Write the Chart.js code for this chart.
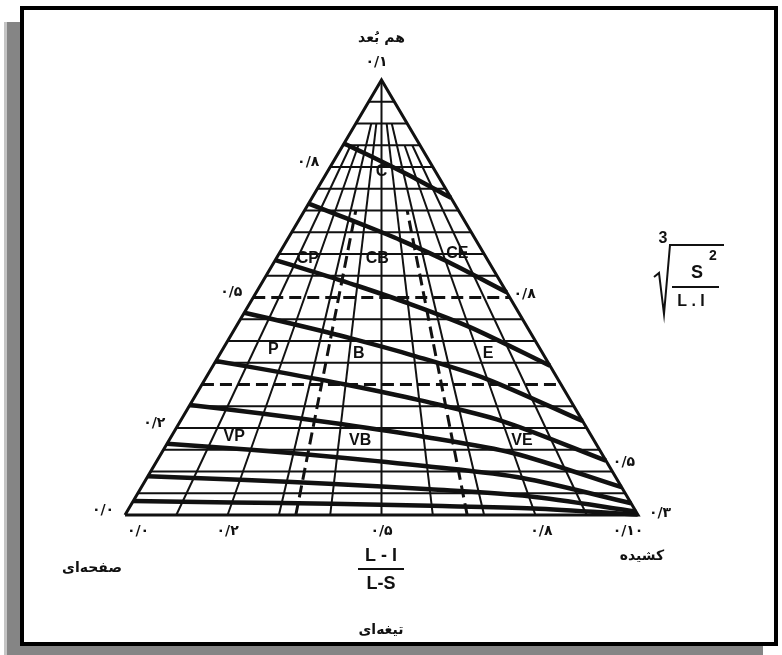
<!DOCTYPE html>
<html>
<head>
<meta charset="utf-8">
<script src="https://cdn.jsdelivr.net/npm/chart.js@4.4.1/dist/chart.umd.min.js"></script>
<style>
  html, body { margin: 0; padding: 0; background: #fff; }
  #shadow { position: absolute; left: 4px; top: 22px; width: 756px; height: 633px; background: #858585; border-left: 3px solid #c4c4c4; }
  #frame { position: absolute; left: 20px; top: 6px; width: 750px; height: 632px; border: 4px solid #000; background: #fff; }
  #chart { position: absolute; left: 0; top: 0; }
</style>
</head>
<body>
<div id="shadow"></div>
<div id="frame"></div>
<canvas id="chart" width="782" height="655"></canvas>
<script>
// S/L (سطرها) و (L-I)/(L-S) (خطوط شعاعی)
const gridS = [0.05, 0.1, 0.15, 0.2, 0.25, 0.35, 0.4, 0.45, 0.55, 0.6, 0.65, 0.7, 0.75, 0.8, 0.85, 0.9, 0.95];
const gridR = [0.1, 0.2, 0.3, 0.4, 0.5, 0.6, 0.7, 0.8, 0.9];
const gridRTop = [0.85, 0.85, 0.9, 0.9, 1, 0.9, 0.9, 0.85, 0.85];

// مرز کلاس‌ها (خط‌چین)
const classS = [0.3, 0.5];
const classR = [0.333, 0.667];
const classRTop = 0.7;

// منحنی‌های کرویت
const contourR = [0, 0.2, 0.4, 0.6, 0.8, 1];
const psi90 = [0.854, 0.840, 0.823, 0.801, 0.772, 0.729];
const psi80 = [0.716, 0.693, 0.666, 0.632, 0.585, 0.512];
const psi70 = [0.586, 0.559, 0.527, 0.487, 0.433, 0.343];
const psi60 = [0.465, 0.438, 0.406, 0.366, 0.312, 0.216];
const psi50 = [0.354, 0.329, 0.300, 0.264, 0.216, 0.125];
const psi40 = [0.253, 0.233, 0.209, 0.180, 0.142, 0.064];
const psi30 = [0.164, 0.150, 0.133, 0.112, 0.085, 0.027];
const psi20 = [0.089, 0.081, 0.071, 0.059, 0.043, 0.008];
const psi10 = [0.032, 0.029, 0.026, 0.021, 0.015, 0.001];
const contours = [psi90, psi80, psi70, psi60, psi50, psi40, psi30, psi20, psi10];

// نام رده‌ها
const classNames = ['C', 'CP', 'CB', 'CE', 'P', 'B', 'E', 'VP', 'VB', 'VE'];
const classNameR = [0.5, 0.15, 0.48, 0.87, 0.16, 0.43, 0.83, 0.15, 0.45, 0.83];
const classNameS = [0.79, 0.59, 0.59, 0.6, 0.38, 0.37, 0.37, 0.18, 0.17, 0.17];

// برچسب محورها
const leftTickS = [0, 0.2, 0.5, 0.8];
const leftTickText = ['۰/۰', '۰/۲', '۰/۵', '۰/۸'];
const bottomTickR = [0, 0.2, 0.5, 0.8, 1];
const bottomTickText = ['۰/۰', '۰/۲', '۰/۵', '۰/۸', '۰/۱۰'];
const rightTickS = [0.512, 0.125];
const rightTickText = ['۰/۸', '۰/۵'];

// تبدیل مختصات مثلثی به مختصات نمودار
function tern(r, s) {
  return { x: 0.5 * s + r * (1 - s), y: s };
}

function lineSet(points, width, dash, tension) {
  return {
    data: points,
    showLine: true,
    borderColor: '#111',
    borderWidth: width,
    borderDash: dash || [],
    pointRadius: 0,
    fill: false,
    tension: tension || 0,
    clip: false
  };
}

const datasets = [];
gridS.forEach(s => datasets.push(lineSet([tern(0, s), tern(1, s)], 2)));
gridR.forEach((r, i) => datasets.push(lineSet([tern(r, 0), tern(r, gridRTop[i])], 2)));
classS.forEach(s => datasets.push(lineSet([tern(0, s), tern(1, s)], 3, [12, 6])));
classR.forEach(r => datasets.push(lineSet([tern(r, 0), tern(r, classRTop)], 3, [12, 6])));
contours.forEach(c => datasets.push(lineSet(contourR.map((r, i) => tern(r, c[i])), 4.5, null, 0.3)));
datasets.push(lineSet([tern(0, 0), tern(0, 1), tern(1, 0), tern(0, 0)], 3));

const labelsPlugin = {
  id: 'labels',
  afterDraw(chart) {
    const ctx = chart.ctx;
    const xs = chart.scales.x, ys = chart.scales.y;
    const px = p => [xs.getPixelForValue(p.x), ys.getPixelForValue(p.y)];
    ctx.save();
    ctx.fillStyle = '#111';
    ctx.textAlign = 'center';
    ctx.textBaseline = 'middle';

    ctx.font = 'bold 16px "Liberation Sans", Arial, sans-serif';
    classNames.forEach((t, i) => {
      const [x, y] = px(tern(classNameR[i], classNameS[i]));
      ctx.fillText(t, x, y);
    });

    ctx.font = 'bold 14px "DejaVu Sans", sans-serif';
    leftTickS.forEach((s, i) => {
      const [x, y] = px(tern(0, s));
      ctx.fillText(leftTickText[i], x - 22, y - 5);
    });
    const bdx = [13, 0, 0, 6, -10];
    bottomTickR.forEach((r, i) => {
      const [x, y] = px(tern(r, 0));
      ctx.fillText(bottomTickText[i], x + bdx[i], y + 16);
    });
    rightTickS.forEach((s, i) => {
      const [x, y] = px(tern(1, s));
      ctx.fillText(rightTickText[i], x + 18, y + 2);
    });
    const [cx, cy] = px(tern(1, 0));
    ctx.fillText('۰/۳', cx + 22, cy - 2);
    const [ax, ay] = px(tern(0.5, 1));
    ctx.fillText('۰/۱', ax - 5, ay - 18);

    // عنوان رأس‌ها
    ctx.font = 'bold 14px "DejaVu Sans", sans-serif';
    ctx.fillText('هم بُعد', ax, ay - 42);
    ctx.fillText('صفحه‌ای', 92, 568);
    ctx.fillText('کشیده', 642, 556);
    ctx.fillText('تیغه‌ای', 381, 630);

    // کسر پایین
    ctx.font = 'bold 18px "Liberation Sans", Arial, sans-serif';
    ctx.fillText('L - I', 381, 556);
    ctx.fillText('L-S', 381, 584);
    ctx.lineWidth = 2;
    ctx.strokeStyle = '#111';
    ctx.beginPath();
    ctx.moveTo(358, 569);
    ctx.lineTo(404, 569);
    ctx.stroke();

    // فرمول کرویت
    ctx.font = 'bold 16px "Liberation Sans", Arial, sans-serif';
    ctx.fillText('3', 663, 239);
    ctx.beginPath();
    ctx.moveTo(654, 277);
    ctx.lineTo(659, 273);
    ctx.lineTo(664, 314);
    ctx.lineTo(670, 245);
    ctx.lineTo(724, 245);
    ctx.stroke();
    ctx.font = 'bold 18px "Liberation Sans", Arial, sans-serif';
    ctx.fillText('S', 697, 273);
    ctx.font = 'bold 14px "Liberation Sans", Arial, sans-serif';
    ctx.fillText('2', 713, 256);
    ctx.beginPath();
    ctx.moveTo(672, 287);
    ctx.lineTo(719, 287);
    ctx.stroke();
    ctx.font = 'bold 16px "Liberation Sans", Arial, sans-serif';
    ctx.fillText('L . I', 691, 302);
    ctx.restore();
  }
};

new Chart(document.getElementById('chart'), {
  type: 'scatter',
  data: { datasets: datasets },
  options: {
    responsive: false,
    animation: false,
    devicePixelRatio: 1,
    layout: { padding: { left: 125, right: 144, top: 80, bottom: 140 } },
    plugins: { legend: { display: false }, tooltip: { enabled: false } },
    scales: {
      x: { type: 'linear', min: 0, max: 1, display: false },
      y: { type: 'linear', min: 0, max: 1, display: false }
    }
  },
  plugins: [labelsPlugin]
});
</script>
</body>
</html>
